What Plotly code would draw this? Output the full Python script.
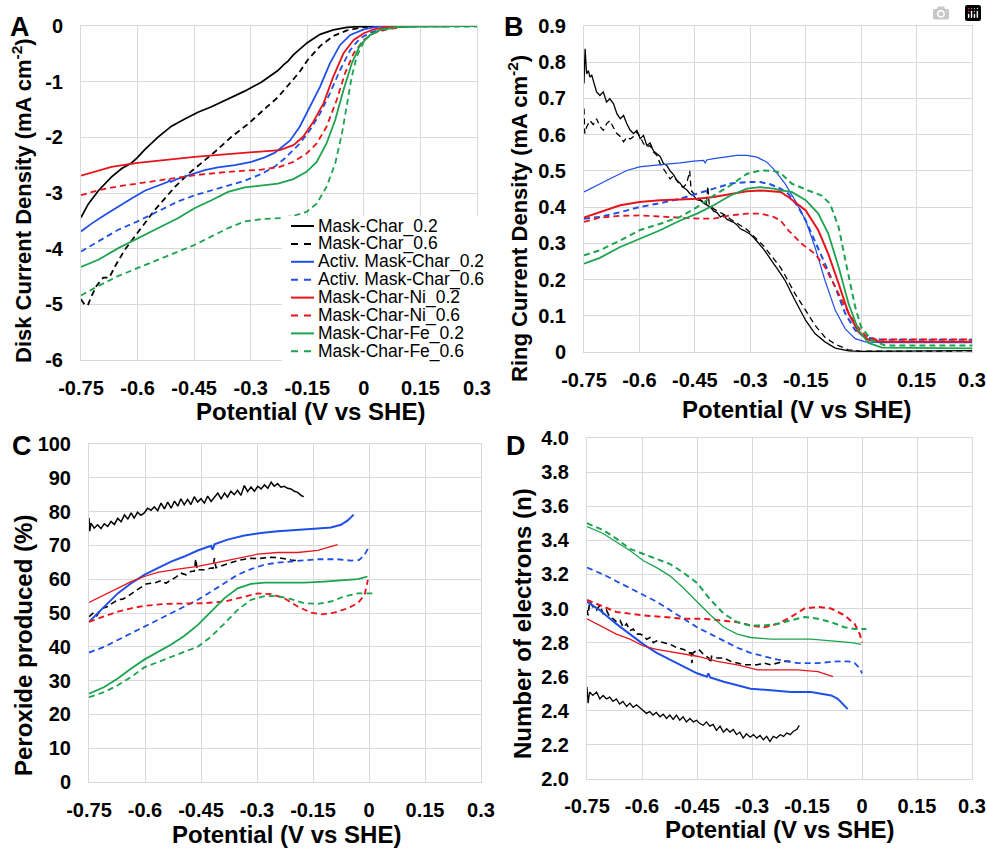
import plotly.graph_objects as go

W, H = 987, 848
FONT = "Arial, 'Liberation Sans', Helvetica, sans-serif"

# ---------------- series meta ----------------
SERIES = ["Mask-Char_0.2", "Mask-Char_0.6", "Activ. Mask-Char_0.2", "Activ. Mask-Char_0.6",
          "Mask-Char-Ni_0.2", "Mask-Char-Ni_0.6", "Mask-Char-Fe_0.2", "Mask-Char-Fe_0.6"]
COLORS = ["#000000", "#000000", "#1F4FE6", "#1F4FE6", "#E8141B", "#E8141B", "#1BA34E", "#1BA34E"]
DASH = "6px,4px"
DASHES = ["solid", DASH] * 4

X_TICKS = [-0.75, -0.6, -0.45, -0.3, -0.15, 0, 0.15, 0.3]
X_TICK_TEXT = ["-0.75", "-0.6", "-0.45", "-0.3", "-0.15", "0", "0.15", "0.3"]
A_Y_TICKS = [0, -1, -2, -3, -4, -5, -6]
A_Y_TICK_TEXT = ["0", "-1", "-2", "-3", "-4", "-5", "-6"]
B_Y_TICKS = [0, 0.1, 0.2, 0.3, 0.4, 0.5, 0.6, 0.7, 0.8, 0.9]
B_Y_TICK_TEXT = ["0", "0.1", "0.2", "0.3", "0.4", "0.5", "0.6", "0.7", "0.8", "0.9"]
C_Y_TICKS = [0, 10, 20, 30, 40, 50, 60, 70, 80, 90, 100]
C_Y_TICK_TEXT = ["0", "10", "20", "30", "40", "50", "60", "70", "80", "90", "100"]
D_Y_TICKS = [2.0, 2.2, 2.4, 2.6, 2.8, 3.0, 3.2, 3.4, 3.6, 3.8, 4.0]
D_Y_TICK_TEXT = ["2.0", "2.2", "2.4", "2.6", "2.8", "3.0", "3.2", "3.4", "3.6", "3.8", "4.0"]

# ---------------- Panel A: disk current density ----------------
A_x_mc02 = [-0.75, -0.731, -0.704, -0.669, -0.642, -0.616, -0.6, -0.581, -0.545, -0.510, -0.475, -0.440, -0.404,
            -0.360, -0.316, -0.272, -0.228, -0.213, -0.201, -0.187, -0.15, -0.116, -0.081, -0.045, 0.0, 0.05, 0.3]
A_y_mc02 = [-3.44, -3.20, -2.96, -2.71, -2.56, -2.46, -2.36, -2.22, -1.99, -1.80, -1.67, -1.55, -1.45,
            -1.31, -1.17, -1.01, -0.80, -0.70, -0.63, -0.52, -0.30, -0.15, -0.07, -0.025, -0.005, 0, 0]

A_x_mc06 = [-0.75, -0.741, -0.732, -0.722, -0.709, -0.691, -0.675, -0.660, -0.634, -0.607, -0.581, -0.554,
            -0.528, -0.501, -0.466, -0.431, -0.395, -0.351, -0.307, -0.263, -0.228, -0.20, -0.17, -0.15,
            -0.116, -0.081, -0.045, 0.0, 0.05, 0.3]
A_y_mc06 = [-4.91, -5.0, -5.02, -4.85, -4.67, -4.52, -4.52, -4.32, -4.02, -3.78, -3.54, -3.30,
            -3.10, -2.89, -2.66, -2.47, -2.26, -1.99, -1.76, -1.49, -1.28, -1.06, -0.82, -0.62,
            -0.36, -0.18, -0.08, -0.02, -0.005, 0]

A_x_ac02 = [-0.75, -0.722, -0.686, -0.651, -0.616, -0.581, -0.545, -0.519, -0.516, -0.512, -0.492, -0.448,
            -0.422, -0.387, -0.342, -0.298, -0.263, -0.237, -0.210, -0.196, -0.170, -0.143, -0.116, -0.090,
            -0.063, -0.036, 0.0, 0.035, 0.1, 0.3]
A_y_ac02 = [-3.69, -3.55, -3.39, -3.24, -3.10, -2.96, -2.86, -2.80, -2.77, -2.80, -2.74, -2.64,
            -2.59, -2.54, -2.50, -2.44, -2.36, -2.28, -2.14, -2.06, -1.81, -1.45, -1.09, -0.67,
            -0.34, -0.16, -0.06, -0.01, 0, 0]

A_x_ac06 = [-0.75, -0.704, -0.651, -0.6, -0.545, -0.492, -0.448, -0.404, -0.360, -0.316, -0.272, -0.237,
            -0.210, -0.196, -0.170, -0.143, -0.116, -0.090, -0.063, -0.036, -0.010, 0.017, 0.052, 0.1, 0.3]
A_y_ac06 = [-4.05, -3.87, -3.66, -3.51, -3.33, -3.15, -3.04, -2.95, -2.86, -2.78, -2.66, -2.53,
            -2.38, -2.29, -2.11, -1.87, -1.57, -1.21, -0.79, -0.43, -0.22, -0.12, -0.05, -0.01, 0]

A_x_ni02 = [-0.75, -0.669, -0.6, -0.537, -0.448, -0.360, -0.272, -0.223, -0.187, -0.161, -0.134, -0.107,
            -0.081, -0.054, -0.027, 0.0, 0.026, 0.061, 0.1, 0.3]
A_y_ni02 = [-2.69, -2.53, -2.46, -2.41, -2.35, -2.30, -2.26, -2.23, -2.14, -1.99, -1.72, -1.39,
            -0.91, -0.49, -0.25, -0.13, -0.06, -0.02, 0, 0]

A_x_ni06 = [-0.75, -0.704, -0.651, -0.6, -0.537, -0.448, -0.360, -0.272, -0.223, -0.187, -0.152, -0.125,
            -0.099, -0.072, -0.050, -0.027, 0.0, 0.026, 0.061, 0.115, 0.3]
A_y_ni06 = [-3.04, -2.95, -2.88, -2.83, -2.77, -2.68, -2.62, -2.58, -2.53, -2.44, -2.29, -2.11,
            -1.81, -1.33, -0.85, -0.49, -0.25, -0.13, -0.06, -0.01, 0]

A_x_fe02 = [-0.75, -0.704, -0.651, -0.6, -0.545, -0.492, -0.448, -0.404, -0.360, -0.316, -0.272, -0.228,
            -0.187, -0.152, -0.125, -0.099, -0.076, -0.054, -0.032, -0.010, 0.017, 0.043, 0.088, 0.15, 0.3]
A_y_fe02 = [-4.33, -4.20, -3.99, -3.81, -3.63, -3.45, -3.27, -3.13, -2.98, -2.90, -2.87, -2.83,
            -2.75, -2.62, -2.44, -2.11, -1.69, -1.15, -0.67, -0.34, -0.16, -0.07, -0.02, -0.005, 0]

A_x_fe06 = [-0.75, -0.704, -0.651, -0.6, -0.545, -0.492, -0.448, -0.404, -0.360, -0.316, -0.272, -0.219,
            -0.187, -0.152, -0.125, -0.099, -0.076, -0.058, -0.045, -0.032, -0.019, 0.0, 0.017, 0.043,
            0.088, 0.15, 0.3]
A_y_fe06 = [-4.84, -4.67, -4.49, -4.35, -4.20, -4.05, -3.93, -3.78, -3.63, -3.51, -3.47, -3.45,
            -3.41, -3.34, -3.19, -2.89, -2.47, -1.93, -1.39, -0.91, -0.55, -0.28, -0.16, -0.07,
            -0.02, -0.01, -0.01]

# ---------------- Panel B: ring current density ----------------
B_x_mc02 = [-0.75, -0.747, -0.743, -0.738, -0.734, -0.729, -0.725, -0.716, -0.707, -0.698, -0.689, -0.680,
            -0.670, -0.661, -0.652, -0.643, -0.634, -0.625, -0.616, -0.607, -0.598, -0.589, -0.580, -0.571,
            -0.562, -0.553, -0.544, -0.535, -0.526, -0.517, -0.508, -0.499, -0.490, -0.481, -0.472, -0.463,
            -0.453, -0.444, -0.435, -0.426, -0.417, -0.408, -0.399, -0.390, -0.381, -0.372, -0.363, -0.354,
            -0.345, -0.336, -0.327, -0.318, -0.309, -0.300, -0.291, -0.282, -0.273, -0.264, -0.255, -0.246,
            -0.237, -0.227, -0.206, -0.179, -0.15, -0.125, -0.098, -0.070, -0.034, 0.0, 0.3]
B_y_mc02 = [0.741, 0.837, 0.768, 0.777, 0.759, 0.764, 0.750, 0.718, 0.708, 0.718, 0.690, 0.699,
            0.685, 0.658, 0.644, 0.653, 0.630, 0.612, 0.603, 0.612, 0.589, 0.598, 0.570, 0.577,
            0.555, 0.547, 0.540, 0.520, 0.515, 0.500, 0.490, 0.474, 0.466, 0.454, 0.448, 0.437,
            0.431, 0.420, 0.419, 0.411, 0.405, 0.400, 0.389, 0.385, 0.373, 0.377, 0.366, 0.363,
            0.358, 0.351, 0.340, 0.336, 0.330, 0.325, 0.316, 0.306, 0.293, 0.284, 0.271, 0.259,
            0.244, 0.230, 0.198, 0.143, 0.087, 0.051, 0.028, 0.011, 0.003, 0.002, 0.004]

B_x_mc06 = [-0.75, -0.748, -0.743, -0.734, -0.725, -0.716, -0.707, -0.698, -0.689, -0.680, -0.670, -0.661,
            -0.652, -0.643, -0.634, -0.625, -0.616, -0.607, -0.598, -0.589, -0.580, -0.571, -0.562, -0.553,
            -0.544, -0.535, -0.526, -0.517, -0.508, -0.499, -0.490, -0.481, -0.472, -0.464, -0.460, -0.453,
            -0.444, -0.435, -0.426, -0.419, -0.415, -0.411, -0.399, -0.372, -0.354, -0.309, -0.264, -0.218,
            -0.206, -0.179, -0.15, -0.125, -0.098, -0.070, -0.034, 0.0, 0.3]
B_y_mc06 = [0.672, 0.603, 0.621, 0.639, 0.628, 0.644, 0.623, 0.612, 0.630, 0.639, 0.619, 0.603,
            0.595, 0.580, 0.593, 0.588, 0.595, 0.607, 0.595, 0.575, 0.566, 0.570, 0.552, 0.543,
            0.520, 0.506, 0.492, 0.478, 0.487, 0.472, 0.460, 0.455, 0.465, 0.500, 0.446, 0.437,
            0.428, 0.420, 0.414, 0.410, 0.458, 0.405, 0.395, 0.380, 0.367, 0.338, 0.293, 0.233,
            0.212, 0.161, 0.115, 0.074, 0.041, 0.021, 0.006, 0.002, 0.003]

B_x_ac02 = [-0.75, -0.707, -0.670, -0.634, -0.6, -0.562, -0.526, -0.490, -0.453, -0.426, -0.422, -0.418,
            -0.399, -0.363, -0.336, -0.309, -0.282, -0.255, -0.233, -0.206, -0.179, -0.15, -0.125, -0.098,
            -0.070, -0.043, -0.016, 0.011, 0.056, 0.3]
B_y_ac02 = [0.442, 0.465, 0.483, 0.501, 0.511, 0.515, 0.518, 0.522, 0.527, 0.529, 0.521, 0.530,
            0.534, 0.540, 0.543, 0.543, 0.538, 0.524, 0.501, 0.465, 0.419, 0.363, 0.290, 0.198,
            0.115, 0.064, 0.037, 0.028, 0.026, 0.026]

B_x_ac06 = [-0.75, -0.707, -0.652, -0.6, -0.544, -0.490, -0.444, -0.399, -0.354, -0.309, -0.273, -0.246,
            -0.218, -0.197, -0.170, -0.15, -0.125, -0.098, -0.070, -0.043, -0.016, 0.011, 0.056, 0.3]
B_y_ac06 = [0.368, 0.373, 0.386, 0.400, 0.411, 0.423, 0.437, 0.451, 0.465, 0.469, 0.469, 0.463,
            0.451, 0.437, 0.400, 0.363, 0.308, 0.244, 0.179, 0.106, 0.060, 0.040, 0.034, 0.034]

B_x_ni02 = [-0.75, -0.707, -0.652, -0.6, -0.544, -0.490, -0.444, -0.399, -0.354, -0.309, -0.273, -0.237,
            -0.218, -0.197, -0.15, -0.116, -0.089, -0.061, -0.034, -0.007, 0.020, 0.056, 0.3]
B_y_ni02 = [0.371, 0.386, 0.405, 0.414, 0.419, 0.421, 0.423, 0.428, 0.437, 0.444, 0.446, 0.444,
            0.442, 0.428, 0.391, 0.336, 0.271, 0.189, 0.106, 0.055, 0.034, 0.028, 0.028]

B_x_ni06 = [-0.75, -0.707, -0.652, -0.6, -0.544, -0.490, -0.435, -0.399, -0.354, -0.309, -0.273, -0.237,
            -0.218, -0.197, -0.161, -0.125, -0.098, -0.070, -0.043, -0.016, 0.011, 0.038, 0.3]
B_y_ni06 = [0.359, 0.371, 0.376, 0.377, 0.374, 0.371, 0.368, 0.368, 0.377, 0.382, 0.382, 0.373,
            0.363, 0.336, 0.299, 0.271, 0.235, 0.179, 0.124, 0.078, 0.046, 0.035, 0.035]

B_x_fe02 = [-0.75, -0.707, -0.652, -0.6, -0.544, -0.490, -0.444, -0.399, -0.354, -0.309, -0.273, -0.237,
            -0.218, -0.188, -0.15, -0.116, -0.089, -0.061, -0.034, -0.007, 0.020, 0.056, 0.3]
B_y_fe02 = [0.244, 0.260, 0.290, 0.313, 0.336, 0.363, 0.382, 0.405, 0.432, 0.451, 0.455, 0.451,
            0.446, 0.442, 0.419, 0.382, 0.327, 0.235, 0.133, 0.060, 0.025, 0.012, 0.010]

B_x_fe06 = [-0.75, -0.707, -0.652, -0.6, -0.544, -0.490, -0.444, -0.399, -0.354, -0.309, -0.273, -0.237,
            -0.218, -0.188, -0.143, -0.107, -0.084, -0.061, -0.039, -0.016, 0.0, 0.029, 0.065, 0.3]
B_y_fe06 = [0.267, 0.281, 0.308, 0.336, 0.354, 0.373, 0.400, 0.432, 0.460, 0.492, 0.501, 0.500,
            0.494, 0.465, 0.446, 0.432, 0.409, 0.345, 0.235, 0.124, 0.069, 0.032, 0.018, 0.018]

# ---------------- Panel C: peroxide produced ----------------
C_x_mc02 = [-0.750, -0.748, -0.745, -0.736, -0.727, -0.718, -0.709, -0.700, -0.691, -0.682, -0.673, -0.664,
            -0.655, -0.646, -0.637, -0.629, -0.620, -0.611, -0.602, -0.593, -0.584, -0.575, -0.566, -0.557,
            -0.548, -0.539, -0.530, -0.521, -0.512, -0.504, -0.495, -0.486, -0.477, -0.468, -0.459, -0.450,
            -0.441, -0.432, -0.423, -0.414, -0.405, -0.396, -0.387, -0.379, -0.370, -0.361, -0.352, -0.343,
            -0.334, -0.325, -0.316, -0.307, -0.298, -0.289, -0.280, -0.271, -0.262, -0.254, -0.245, -0.236,
            -0.227, -0.218, -0.209, -0.200, -0.191, -0.182, -0.175]
C_y_mc02 = [78.1, 74.2, 76.6, 75.1, 76.1, 75.0, 76.4, 75.6, 77.1, 76.2, 78.0, 77.0,
            79.0, 77.8, 79.6, 78.1, 79.8, 78.9, 79.6, 81.0, 80.4, 81.4, 80.3, 82.5,
            80.8, 82.8, 81.0, 83.1, 81.6, 83.8, 82.0, 83.6, 82.1, 84.4, 82.8, 83.8,
            82.5, 84.6, 83.0, 84.4, 85.5, 83.8, 85.5, 84.3, 86.0, 85.0, 86.3, 84.8,
            87.7, 85.9, 87.3, 86.0, 87.5, 86.7, 87.9, 86.9, 88.7, 87.5, 88.3, 87.2,
            87.5, 86.9, 86.7, 86.0, 85.7, 84.8, 84.4]

C_x_mc06 = [-0.750, -0.740, -0.731, -0.722, -0.713, -0.700, -0.687, -0.673, -0.660, -0.646, -0.629, -0.611,
            -0.597, -0.584, -0.571, -0.557, -0.544, -0.530, -0.517, -0.504, -0.490, -0.477, -0.468, -0.464,
            -0.460, -0.454, -0.441, -0.423, -0.418, -0.414, -0.410, -0.405, -0.387, -0.370, -0.352, -0.334,
            -0.316, -0.298, -0.280, -0.262, -0.245, -0.227, -0.209, -0.191]
C_y_mc06 = [48.9, 49.9, 48.9, 50.4, 51.4, 51.9, 52.9, 53.9, 54.1, 54.9, 56.3, 57.6,
            58.6, 58.8, 59.0, 59.6, 58.8, 59.8, 60.6, 61.8, 61.3, 62.3, 62.4, 66.0,
            62.6, 62.8, 62.8, 63.3, 63.2, 66.2, 63.4, 63.6, 64.3, 64.9, 65.5, 65.9,
            66.2, 66.1, 66.4, 66.5, 66.4, 66.0, 65.7, 65.5]

C_x_ac02 = [-0.75, -0.727, -0.700, -0.673, -0.637, -0.602, -0.566, -0.530, -0.495, -0.459, -0.423, -0.419,
            -0.414, -0.379, -0.334, -0.289, -0.245, -0.191, -0.137, -0.102, -0.075, -0.057, -0.041]
C_y_ac02 = [47.4, 49.9, 52.9, 55.8, 58.8, 61.3, 63.3, 65.2, 66.7, 68.5, 69.9, 68.7,
            70.3, 71.7, 72.9, 73.7, 74.2, 74.7, 75.0, 75.3, 76.1, 77.4, 79.1]

C_x_ac06 = [-0.75, -0.709, -0.673, -0.637, -0.602, -0.566, -0.530, -0.495, -0.459, -0.423, -0.387, -0.352,
            -0.316, -0.280, -0.245, -0.191, -0.137, -0.084, -0.048, -0.026, -0.012, -0.002]
C_y_ac06 = [38.3, 40.0, 42.0, 44.0, 45.9, 47.9, 49.9, 51.9, 53.9, 56.3, 58.8, 61.3,
            63.0, 64.3, 64.9, 65.5, 65.9, 65.9, 65.5, 65.7, 67.2, 69.2]

C_x_ni02 = [-0.75, -0.709, -0.673, -0.637, -0.602, -0.566, -0.512, -0.459, -0.405, -0.352, -0.298, -0.245,
            -0.191, -0.137, -0.102, -0.084]
C_y_ni02 = [53.1, 55.3, 57.3, 59.3, 60.8, 62.0, 63.0, 63.8, 65.0, 66.2, 67.4, 67.9,
            67.9, 68.5, 69.5, 70.2]

C_x_ni06 = [-0.75, -0.709, -0.673, -0.637, -0.602, -0.548, -0.495, -0.441, -0.387, -0.334, -0.298, -0.262,
            -0.227, -0.191, -0.155, -0.128, -0.093, -0.057, -0.030, -0.012, -0.003]
C_y_ni06 = [47.4, 48.9, 50.4, 51.4, 52.1, 52.7, 52.9, 52.9, 53.4, 54.9, 55.8, 55.6,
            54.4, 51.9, 50.1, 49.6, 50.1, 51.4, 52.9, 55.3, 59.8]

C_x_fe02 = [-0.75, -0.709, -0.673, -0.637, -0.602, -0.566, -0.530, -0.495, -0.459, -0.423, -0.387, -0.352,
            -0.316, -0.280, -0.227, -0.173, -0.120, -0.066, -0.030, -0.004]
C_y_fe02 = [26.1, 28.1, 30.6, 33.6, 36.2, 38.5, 40.7, 43.2, 46.4, 50.4, 54.4, 57.3,
            58.6, 59.0, 59.0, 59.0, 59.3, 59.6, 60.0, 60.8]

C_x_fe06 = [-0.75, -0.709, -0.673, -0.637, -0.602, -0.566, -0.530, -0.495, -0.459, -0.423, -0.387, -0.352,
            -0.316, -0.280, -0.245, -0.209, -0.173, -0.137, -0.102, -0.066, -0.030, 0.010]
C_y_fe06 = [25.1, 26.6, 28.6, 31.1, 33.9, 35.5, 37.0, 38.5, 40.0, 43.0, 46.9, 50.9,
            53.9, 55.0, 55.0, 54.1, 52.9, 52.7, 53.4, 54.9, 55.8, 55.8]

# ---------------- Panel D: number of electrons ----------------
D_x_mc02 = [-0.750, -0.747, -0.743, -0.734, -0.724, -0.715, -0.706, -0.697, -0.688, -0.679, -0.670, -0.661,
            -0.652, -0.642, -0.633, -0.624, -0.615, -0.606, -0.597, -0.588, -0.579, -0.570, -0.561, -0.551,
            -0.542, -0.533, -0.524, -0.515, -0.506, -0.497, -0.488, -0.479, -0.469, -0.460, -0.451, -0.442,
            -0.433, -0.424, -0.415, -0.406, -0.397, -0.387, -0.378, -0.369, -0.360, -0.351, -0.342, -0.333,
            -0.324, -0.315, -0.305, -0.296, -0.287, -0.278, -0.269, -0.260, -0.251, -0.242, -0.233, -0.223,
            -0.214, -0.205, -0.196, -0.187, -0.178, -0.171]
D_y_mc02 = [2.54, 2.445, 2.51, 2.49, 2.51, 2.47, 2.49, 2.47, 2.48, 2.455, 2.47, 2.44,
            2.455, 2.425, 2.445, 2.42, 2.435, 2.42, 2.40, 2.385, 2.395, 2.375, 2.39, 2.365,
            2.38, 2.355, 2.375, 2.35, 2.375, 2.345, 2.365, 2.335, 2.355, 2.335, 2.345, 2.325,
            2.315, 2.335, 2.31, 2.32, 2.285, 2.31, 2.275, 2.295, 2.275, 2.29, 2.26, 2.275,
            2.24, 2.265, 2.245, 2.26, 2.24, 2.255, 2.23, 2.25, 2.22, 2.25, 2.24, 2.26,
            2.25, 2.27, 2.26, 2.28, 2.29, 2.315]

D_x_mc06 = [-0.750, -0.747, -0.743, -0.734, -0.724, -0.715, -0.706, -0.697, -0.688, -0.679, -0.669, -0.660,
            -0.651, -0.642, -0.633, -0.624, -0.615, -0.605, -0.596, -0.587, -0.578, -0.569, -0.560, -0.541,
            -0.523, -0.505, -0.486, -0.473, -0.466, -0.464, -0.461, -0.445, -0.432, -0.418, -0.413, -0.410,
            -0.395, -0.377, -0.358, -0.340, -0.322, -0.303, -0.285, -0.267, -0.249, -0.230, -0.212, -0.194]
D_y_mc06 = [2.99, 2.96, 3.04, 3.01, 2.99, 3.02, 2.97, 2.99, 2.95, 2.94, 2.92, 2.93,
            2.89, 2.91, 2.87, 2.88, 2.85, 2.85, 2.84, 2.82, 2.83, 2.80, 2.81, 2.80,
            2.79, 2.77, 2.76, 2.74, 2.74, 2.68, 2.74, 2.76, 2.73, 2.71, 2.68, 2.72,
            2.71, 2.71, 2.69, 2.68, 2.67, 2.67, 2.67, 2.68, 2.67, 2.68, 2.69, 2.69]

D_x_ac02 = [-0.75, -0.715, -0.670, -0.633, -0.596, -0.560, -0.523, -0.487, -0.450, -0.423, -0.419, -0.414,
            -0.377, -0.340, -0.304, -0.249, -0.194, -0.139, -0.084, -0.066, -0.052, -0.039]
D_y_ac02 = [3.04, 2.99, 2.91, 2.85, 2.79, 2.74, 2.70, 2.66, 2.62, 2.60, 2.62, 2.595,
            2.57, 2.55, 2.53, 2.52, 2.51, 2.51, 2.49, 2.47, 2.44, 2.41]

D_x_ac06 = [-0.75, -0.706, -0.670, -0.633, -0.596, -0.560, -0.523, -0.487, -0.450, -0.413, -0.377, -0.340,
            -0.304, -0.267, -0.230, -0.176, -0.120, -0.066, -0.038, -0.020, -0.006, 0.0]
D_y_ac06 = [3.24, 3.20, 3.16, 3.12, 3.08, 3.04, 2.99, 2.94, 2.89, 2.85, 2.81, 2.77,
            2.74, 2.72, 2.70, 2.68, 2.68, 2.69, 2.69, 2.68, 2.65, 2.62]

D_x_ni02 = [-0.75, -0.706, -0.670, -0.633, -0.596, -0.560, -0.505, -0.450, -0.395, -0.340, -0.285, -0.230,
            -0.176, -0.120, -0.079]
D_y_ni02 = [2.94, 2.89, 2.85, 2.82, 2.78, 2.76, 2.74, 2.72, 2.69, 2.67, 2.64, 2.64,
            2.64, 2.63, 2.60]

D_x_ni06 = [-0.75, -0.706, -0.670, -0.633, -0.596, -0.541, -0.487, -0.432, -0.377, -0.340, -0.304, -0.267,
            -0.230, -0.194, -0.157, -0.120, -0.084, -0.048, -0.020, -0.006, 0.0]
D_y_ni06 = [3.05, 3.01, 2.98, 2.97, 2.96, 2.95, 2.94, 2.94, 2.93, 2.92, 2.90, 2.89,
            2.91, 2.95, 3.00, 3.01, 3.00, 2.96, 2.91, 2.85, 2.80]

D_x_fe02 = [-0.75, -0.706, -0.670, -0.633, -0.596, -0.560, -0.523, -0.487, -0.450, -0.413, -0.377, -0.340,
            -0.304, -0.249, -0.194, -0.139, -0.084, -0.029, -0.002]
D_y_fe02 = [3.48, 3.44, 3.39, 3.34, 3.28, 3.24, 3.19, 3.12, 3.04, 2.96, 2.89, 2.85,
            2.83, 2.82, 2.82, 2.82, 2.81, 2.80, 2.79]

D_x_fe06 = [-0.75, -0.706, -0.670, -0.633, -0.596, -0.560, -0.523, -0.487, -0.450, -0.413, -0.377, -0.340,
            -0.304, -0.267, -0.230, -0.194, -0.157, -0.120, -0.084, -0.048, -0.020, 0.012]
D_y_fe06 = [3.50, 3.46, 3.41, 3.35, 3.32, 3.29, 3.26, 3.21, 3.15, 3.05, 2.97, 2.92,
            2.90, 2.90, 2.91, 2.93, 2.95, 2.94, 2.92, 2.89, 2.88, 2.88]

# ---------------- build figure ----------------
PANELS = [
    ("x", "y", [(A_x_mc02, A_y_mc02), (A_x_mc06, A_y_mc06), (A_x_ac02, A_y_ac02), (A_x_ac06, A_y_ac06),
                (A_x_ni02, A_y_ni02), (A_x_ni06, A_y_ni06), (A_x_fe02, A_y_fe02), (A_x_fe06, A_y_fe06)],
     [1.7, 1.8, 1.8, 1.8, 1.8, 1.8, 1.8, 1.8]),
    ("x2", "y2", [(B_x_mc02, B_y_mc02), (B_x_mc06, B_y_mc06), (B_x_ac02, B_y_ac02), (B_x_ac06, B_y_ac06),
                  (B_x_ni02, B_y_ni02), (B_x_ni06, B_y_ni06), (B_x_fe02, B_y_fe02), (B_x_fe06, B_y_fe06)],
     [1.3, 1.3, 1.2, 2.0, 2.0, 1.8, 1.8, 2.0]),
    ("x3", "y3", [(C_x_mc02, C_y_mc02), (C_x_mc06, C_y_mc06), (C_x_ac02, C_y_ac02), (C_x_ac06, C_y_ac06),
                  (C_x_ni02, C_y_ni02), (C_x_ni06, C_y_ni06), (C_x_fe02, C_y_fe02), (C_x_fe06, C_y_fe06)],
     [1.5, 1.6, 2.0, 1.8, 1.3, 1.8, 1.8, 1.8]),
    ("x4", "y4", [(D_x_mc02, D_y_mc02), (D_x_mc06, D_y_mc06), (D_x_ac02, D_y_ac02), (D_x_ac06, D_y_ac06),
                  (D_x_ni02, D_y_ni02), (D_x_ni06, D_y_ni06), (D_x_fe02, D_y_fe02), (D_x_fe06, D_y_fe06)],
     [1.3, 1.6, 2.0, 1.8, 1.3, 2.0, 1.3, 2.0]),
]

fig = go.Figure()
for xa, ya, data, widths in PANELS:
    for i, (xs, ys) in enumerate(data):
        fig.add_trace(go.Scatter(
            x=xs, y=ys, mode="lines", name=SERIES[i], showlegend=False, hoverinfo="skip",
            xaxis=xa, yaxis=ya,
            line=dict(color=COLORS[i], width=widths[i], dash=DASHES[i]),
        ))


def hdom(p0, p1):
    return [p0 / W, p1 / W]


def vdom(top, bottom):
    return [1 - bottom / H, 1 - top / H]


GRID = "#D9D9D9"
tickfont = dict(family=FONT, size=20, color="#000000", weight="bold")
common = dict(showgrid=True, gridcolor=GRID, gridwidth=1, showline=True, linecolor=GRID, linewidth=1,
              mirror=True, zeroline=False, ticks="", tickfont=tickfont, fixedrange=True, automargin=False)

xcommon = dict(common, range=[-0.75, 0.3], tickmode="array", tickvals=X_TICKS, ticktext=X_TICK_TEXT,
               ticklabelstandoff=10)
ycommon = dict(common, tickmode="array", ticklabelstandoff=13)

fig.update_layout(
    width=W, height=H, margin=dict(l=0, r=0, t=0, b=0, pad=0, autoexpand=False),
    paper_bgcolor="white", plot_bgcolor="white",
    xaxis=dict(xcommon, domain=hdom(81, 477), anchor="y"),
    yaxis=dict(ycommon, domain=vdom(26, 360), anchor="x", range=[-6, 0],
               tickvals=A_Y_TICKS, ticktext=A_Y_TICK_TEXT),
    xaxis2=dict(xcommon, domain=hdom(584, 972), anchor="y2"),
    yaxis2=dict(ycommon, domain=vdom(26, 352), anchor="x2", range=[0, 0.9],
                tickvals=B_Y_TICKS, ticktext=B_Y_TICK_TEXT),
    xaxis3=dict(xcommon, domain=hdom(89, 481), anchor="y3"),
    yaxis3=dict(ycommon, domain=vdom(444, 782), anchor="x3", range=[0, 100],
                tickvals=C_Y_TICKS, ticktext=C_Y_TICK_TEXT),
    xaxis4=dict(xcommon, domain=hdom(587, 972), anchor="y4", ticklabelstandoff=9),
    yaxis4=dict(ycommon, domain=vdom(438, 779), anchor="x4", range=[2, 4],
                tickvals=D_Y_TICKS, ticktext=D_Y_TICK_TEXT),
)

annotations = []


def ann(text, px, py, size, angle=0, bold=True, xanchor="center"):
    annotations.append(dict(
        text=text, x=px / W, y=1 - py / H, xref="paper", yref="paper", showarrow=False,
        xanchor=xanchor, yanchor="middle", textangle=angle,
        font=dict(family=FONT, size=size, color="#000000", weight="bold" if bold else "normal"),
    ))


# panel letters
ann("A", 20, 27, 27)
ann("B", 514, 27, 27)
ann("C", 22, 446, 27)
ann("D", 516, 446, 27)
# axis titles
XTITLE = "Potential (V vs SHE)"
ann(XTITLE, 310, 411, 24)
ann(XTITLE, 796, 410, 24)
ann(XTITLE, 286, 834, 24)
ann(XTITLE, 779, 829, 24)
ann("Disk Current Density (mA cm<sup>-2</sup>)", 22, 201, 22, angle=-90)
ann("Ring Current Density (mA cm<sup>-2</sup>)", 518, 219, 22, angle=-90)
ann("Peroxide produced (%)", 23, 646, 24, angle=-90)
ann("Number of electrons (n)", 522, 624, 24, angle=-90)

# legend (panel A, lower right) drawn as a white box with line samples and text
shapes = [dict(type="rect", xref="paper", yref="paper", x0=282 / W, x1=484 / W,
               y0=1 - 363 / H, y1=1 - 216 / H, fillcolor="white", line=dict(width=0), layer="above")]
LEG_TOP, LEG_STEP = 226, 17.9
for i, name in enumerate(SERIES):
    py = LEG_TOP + i * LEG_STEP
    shapes.append(dict(type="line", xref="paper", yref="paper", x0=291 / W, x1=314 / W,
                       y0=1 - py / H, y1=1 - py / H, layer="above",
                       line=dict(color=COLORS[i], width=2,
                                 dash="solid" if DASHES[i] == "solid" else "7px,6px")))
    ann(name, 316, py, 17.5, bold=False, xanchor="left")

fig.update_layout(annotations=annotations, shapes=shapes)

fig.write_html("out.html", post_script="document.body.style.margin='0';document.body.style.overflow='hidden';")
